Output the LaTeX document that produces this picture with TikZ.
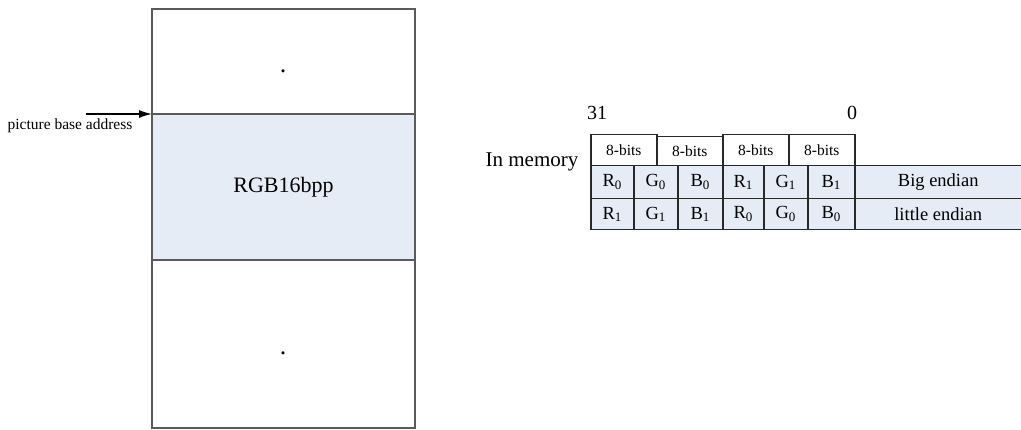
\documentclass[tikz,border=0pt]{standalone}
\usepackage{fontspec}
\setmainfont{Liberation Serif}
\usetikzlibrary{arrows.meta,calc}
\definecolor{shade}{RGB}{230,236,246}
\definecolor{boxline}{RGB}{90,90,90}
\definecolor{tabline}{RGB}{40,40,40}
\tikzset{
  memblock/.style={draw=boxline, line width=1.8pt, anchor=north west, inner sep=0pt, outer sep=0pt, minimum width=263pt, font=\fontsize{22}{26}\selectfont},
  bitbox/.style={draw=tabline, line width=1.5pt, fill=white, anchor=north west, inner sep=0pt, minimum width=66pt, font=\fontsize{15.5}{18}\selectfont},
  cell/.style={draw=tabline, line width=1.5pt, fill=shade, anchor=north west, inner sep=0pt, font=\fontsize{18.5}{22}\selectfont},
  plain/.style={inner sep=0pt},
}
\begin{document}
\begin{tikzpicture}[x=1pt,y=-1pt]
\useasboundingbox (0,0) rectangle (1021,430);
% left memory picture
\node[memblock, minimum height=105pt] (top) at (152,9) {};
\node[memblock, minimum height=146pt, fill=shade] (mid) at (152,114) {RGB16bpp};
\node[memblock, minimum height=168pt] (bot) at (152,260) {};
\node[plain, anchor=base, font=\fontsize{26}{30}\selectfont] (dot1) at (283,73) {.};
\node[plain, anchor=base, font=\fontsize{26}{30}\selectfont] (dot2) at (283,355) {.};
\coordinate (pba) at ($(mid.north west)+(-66,0)$);
\draw[line width=1.3pt, -{Latex[length=13pt,width=8pt]}] (pba) -- (mid.north west);
\node[plain, font=\fontsize{15.5}{18}\selectfont] (pbalabel) at (70,126) {picture base address};
% right table
\node[plain, font=\fontsize{20}{24}\selectfont] (b31) at (597,113) {31};
\node[plain, font=\fontsize{20}{24}\selectfont] (b0) at (852,113) {0};
\node[plain, font=\fontsize{21}{25}\selectfont] (inmem) at (532,162) {In memory};
\node[bitbox, minimum height=31pt] (w1) at (590,134) {8-bits};
\node[bitbox, minimum height=29pt] (w2) at (656,136) {8-bits};
\node[bitbox, minimum height=31pt] (w3) at (722,134) {8-bits};
\node[bitbox, minimum height=31pt] (w4) at (788,134) {8-bits};
% row 1
\node[cell, minimum width=43pt, minimum height=33pt] (a1) at (590,165) {R\textsubscript{0}};
\node[cell, minimum width=44pt, minimum height=33pt] (a2) at (633,165) {G\textsubscript{0}};
\node[cell, minimum width=45pt, minimum height=33pt] (a3) at (677,165) {B\textsubscript{0}};
\node[cell, minimum width=41pt, minimum height=33pt] (a4) at (722,165) {R\textsubscript{1}};
\node[cell, minimum width=44pt, minimum height=33pt] (a5) at (763,165) {G\textsubscript{1}};
\node[cell, minimum width=47pt, minimum height=33pt] (a6) at (807,165) {B\textsubscript{1}};
\node[cell, minimum width=170pt, minimum height=33pt] (big) at (854,165) {\hspace*{-3pt}Big endian};
% row 2
\node[cell, minimum width=43pt, minimum height=31pt] (c1) at (590,198) {R\textsubscript{1}};
\node[cell, minimum width=44pt, minimum height=31pt] (c2) at (633,198) {G\textsubscript{1}};
\node[cell, minimum width=45pt, minimum height=31pt] (c3) at (677,198) {B\textsubscript{1}};
\node[cell, minimum width=41pt, minimum height=31pt] (c4) at (722,198) {R\textsubscript{0}};
\node[cell, minimum width=44pt, minimum height=31pt] (c5) at (763,198) {G\textsubscript{0}};
\node[cell, minimum width=47pt, minimum height=31pt] (c6) at (807,198) {B\textsubscript{0}};
\node[cell, minimum width=170pt, minimum height=31pt] (little) at (854,198) {\hspace*{-3pt}little endian};
\end{tikzpicture}
\end{document}
